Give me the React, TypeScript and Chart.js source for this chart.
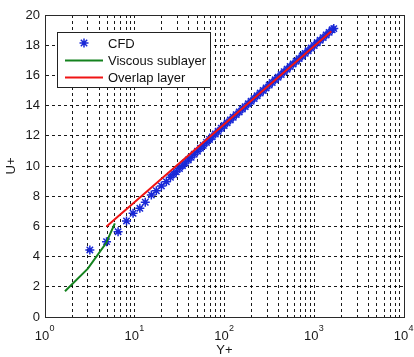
import React, { useEffect, useRef } from 'react';
import { Chart, registerables } from 'chart.js';

Chart.register(...registerables);

// ---- data ----
const cfdYPlus = [3.16, 4.85, 6.52, 8.09, 9.58, 11.4, 13.1, 15.3, 17.4, 19.8, 22.5, 25, 27, 29, 31.5, 34, 36.5, 39.5, 42.5, 46, 50, 54, 58, 63, 68, 73, 79, 85, 92, 99, 107, 116, 125, 135, 146, 158, 170, 184, 198, 214, 231, 250, 270, 291, 315, 340, 367, 396, 428, 462, 499, 539, 582, 629, 679, 733, 792, 855, 924, 998, 1078, 1164, 1257, 1358, 1466, 1583, 1650];
const cfdUPlus = [4.44, 4.99, 5.65, 6.36, 6.87, 7.2, 7.6, 8.08, 8.36, 8.68, 8.96, 9.25, 9.45, 9.62, 9.83, 10.02, 10.2, 10.4, 10.58, 10.78, 10.98, 11.18, 11.36, 11.56, 11.76, 11.93, 12.12, 12.3, 12.5, 12.68, 12.86, 13.05, 13.23, 13.4, 13.58, 13.77, 13.93, 14.12, 14.29, 14.47, 14.65, 14.83, 15.0, 15.17, 15.36, 15.53, 15.71, 15.88, 16.06, 16.24, 16.41, 16.59, 16.76, 16.94, 17.11, 17.29, 17.46, 17.63, 17.81, 17.98, 18.16, 18.33, 18.5, 18.68, 18.85, 19.02, 19.1];

const viscousYPlus = [1.67, 3.0, 4.8, 6.0];
const viscousUPlus = [1.7, 3.2, 4.9, 6.2];

const overlapYPlus = [4.85, 6.5, 10, 20, 50, 100, 200, 500, 1000, 1550];
const overlapUPlus = [6.0, 6.65, 7.61, 9.17, 11.22, 12.78, 14.34, 16.39, 17.95, 18.93];

const seriesLabels = ['CFD', 'Viscous sublayer', 'Overlap layer'];

const xDecades = [1, 10, 100, 1000, 10000];
const xDecadeExponents = ['0', '1', '2', '3', '4'];
const xMinorMultipliers = [2, 3, 4, 5, 6, 7, 8, 9];
const yMin = 0;
const yMax = 20;
const yStep = 2;
const xTitle = 'Y+';
const yTitle = 'U+';

const FONT = '"Liberation Sans", Arial, Helvetica, sans-serif';

export default function App() {
  const ref = useRef<HTMLCanvasElement>(null);

  useEffect(() => {
    const canvas = ref.current;
    if (!canvas) return;

    const toPts = (xs: number[], ys: number[]) => xs.map((x, i) => ({ x, y: ys[i] }));

    const gridValues: number[] = [];
    xDecades.forEach((d, i) => {
      gridValues.push(d);
      if (i < xDecades.length - 1) xMinorMultipliers.forEach((m) => gridValues.push(d * m));
    });

    const framePlugin = {
      id: 'frame',
      afterDatasetsDraw(chart: any) {
        const { ctx, chartArea: a } = chart;
        ctx.save();
        ctx.setLineDash([]);
        ctx.strokeStyle = '#2a2a2a';
        ctx.lineWidth = 1;
        ctx.strokeRect(a.left + 0.5, a.top + 0.5, a.right - a.left, a.bottom - a.top);
        ctx.restore();
      },
    };

    const xLabelPlugin = {
      id: 'xLabels',
      afterDraw(chart: any) {
        const { ctx } = chart;
        const xs = chart.scales.x;
        ctx.save();
        ctx.fillStyle = '#1a1a1a';
        xDecades.forEach((v, i) => {
          const px = xs.getPixelForValue(v);
          ctx.font = `13px ${FONT}`;
          ctx.textAlign = 'center';
          ctx.textBaseline = 'alphabetic';
          ctx.fillText('10', px - 3, 340);
          ctx.font = `9px ${FONT}`;
          ctx.textAlign = 'left';
          ctx.fillText(xDecadeExponents[i], px + 4.5, 331);
        });
        ctx.restore();
      },
    };

    const legendPlugin = {
      id: 'boxLegend',
      afterDraw(chart: any) {
        const { ctx } = chart;
        const ds = chart.data.datasets;
        const bx = 57, by = 32, bw = 153, bh = 55;
        const rows = [43, 60, 77];
        ctx.save();
        ctx.setLineDash([]);
        ctx.fillStyle = '#ffffff';
        ctx.fillRect(bx, by, bw, bh);
        ctx.strokeStyle = '#222';
        ctx.lineWidth = 1;
        ctx.strokeRect(bx + 0.5, by + 0.5, bw, bh);

        // marker row
        const cx = 84, cy = rows[0], r = 4.5;
        ctx.strokeStyle = ds[0].borderColor;
        ctx.lineWidth = 1.5;
        ctx.beginPath();
        for (let k = 0; k < 4; k++) {
          const ang = (k * Math.PI) / 4;
          ctx.moveTo(cx - Math.cos(ang) * r, cy - Math.sin(ang) * r);
          ctx.lineTo(cx + Math.cos(ang) * r, cy + Math.sin(ang) * r);
        }
        ctx.stroke();

        // line rows
        [1, 2].forEach((i) => {
          ctx.strokeStyle = ds[i].borderColor;
          ctx.lineWidth = 2;
          ctx.beginPath();
          ctx.moveTo(65, rows[i] + 0.5);
          ctx.lineTo(103, rows[i] + 0.5);
          ctx.stroke();
        });

        ctx.fillStyle = '#111';
        ctx.font = `13px ${FONT}`;
        ctx.textAlign = 'left';
        ctx.textBaseline = 'middle';
        seriesLabels.forEach((t, i) => ctx.fillText(t, 108, rows[i] + 1));
        ctx.restore();
      },
    };

    const chart = new Chart(canvas, {
      type: 'scatter',
      data: {
        datasets: [
          {
            label: seriesLabels[0],
            data: toPts(cfdYPlus, cfdUPlus),
            showLine: false,
            pointStyle: 'star',
            pointRadius: 4.5,
            pointBorderWidth: 1.5,
            borderColor: 'rgb(25,40,215)',
            backgroundColor: 'rgb(25,40,215)',
            order: 2,
          },
          {
            label: seriesLabels[1],
            data: toPts(viscousYPlus, viscousUPlus),
            showLine: true,
            pointRadius: 0,
            borderWidth: 2,
            borderColor: 'rgb(20,130,30)',
            backgroundColor: 'rgb(20,130,30)',
            tension: 0,
            order: 1,
          },
          {
            label: seriesLabels[2],
            data: toPts(overlapYPlus, overlapUPlus),
            showLine: true,
            pointRadius: 0,
            borderWidth: 2,
            borderColor: 'rgb(240,20,20)',
            backgroundColor: 'rgb(240,20,20)',
            tension: 0,
            order: 0,
          },
        ],
      },
      options: {
        responsive: false,
        devicePixelRatio: 1,
        animation: false,
        layout: { padding: { left: 0, right: 10, top: 15, bottom: 0 } },
        plugins: {
          legend: { display: false },
          tooltip: { enabled: false },
        },
        scales: {
          x: {
            type: 'logarithmic',
            min: xDecades[0],
            max: xDecades[xDecades.length - 1],
            afterBuildTicks: (scale: any) => {
              scale.ticks = gridValues.map((v) => ({ value: v, major: xDecades.includes(v) }));
            },
            afterFit: (scale: any) => {
              scale.height = 40;
            },
            ticks: { display: false },
            grid: { color: 'rgba(0,0,0,0.9)', lineWidth: 1, drawTicks: false },
            border: { display: true, color: '#2a2a2a', dash: [3, 3] },
            title: {
              display: true,
              text: xTitle,
              color: '#1a1a1a',
              font: { family: FONT, size: 13, lineHeight: 1 },
              padding: { top: 0, bottom: 0 },
            },
          },
          y: {
            type: 'linear',
            min: yMin,
            max: yMax,
            afterFit: (scale: any) => {
              scale.width = 45;
            },
            ticks: {
              stepSize: yStep,
              padding: 5,
              color: '#1a1a1a',
              font: { family: FONT, size: 13 },
            },
            grid: { color: 'rgba(0,0,0,0.9)', lineWidth: 1, drawTicks: false },
            border: { display: true, color: '#2a2a2a', dash: [3, 3] },
            title: {
              display: true,
              text: yTitle,
              color: '#1a1a1a',
              font: { family: FONT, size: 13, lineHeight: 1 },
              padding: { top: 5, bottom: 0 },
            },
          },
        },
      },
      plugins: [framePlugin, xLabelPlugin, legendPlugin],
    } as any);

    return () => chart.destroy();
  }, []);

  return (
    <div style={{ position: 'absolute', left: 0, top: 0, width: 414, height: 357, background: '#fff' }}>
      <canvas ref={ref} width={414} height={357} style={{ display: 'block' }} />
    </div>
  );
}
